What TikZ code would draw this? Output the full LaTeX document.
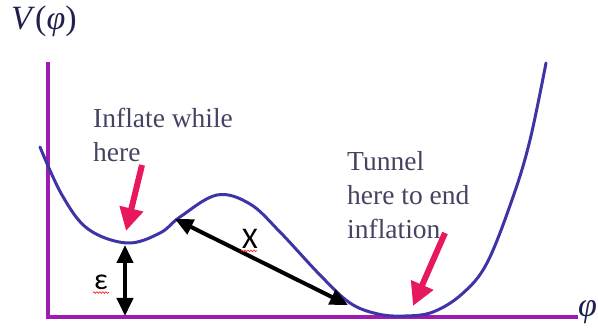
\documentclass[tikz,border=0pt]{standalone}
\usepackage{fontspec}
\setmainfont{Liberation Serif}
\newfontfamily\labfont{Carlito}
\usetikzlibrary{arrows.meta,decorations.pathmorphing}
\definecolor{axispurple}{RGB}{158,28,178}
\definecolor{curveblue}{RGB}{62,52,165}
\definecolor{hotpink}{RGB}{232,24,92}
\definecolor{slatetext}{RGB}{68,68,98}
\definecolor{titlenavy}{RGB}{32,32,80}

\begin{document}
\begin{tikzpicture}[x=1pt, y=-1pt,
    axisline/.style={line width=4pt, axispurple},
    pot/.style={line width=3pt, curveblue, line join=round, line cap=round},
    pinkarr/.style={-{Triangle[length=23pt,width=23pt]}, line width=6pt, hotpink},
    gaparr/.style={{Triangle[length=18pt,width=16pt]}-{Triangle[length=18pt,width=16pt]},
                   line width=4pt, black},
    note/.style={font=\fontsize{27.5}{34}\selectfont, text=slatetext, align=left,
                 inner sep=0pt, anchor=north west},
    sym/.style={font=\labfont\fontsize{30}{32}\selectfont, inner sep=0pt},
    bigmath/.style={font=\fontsize{34}{38}\selectfont, text=titlenavy, inner sep=0pt},
    squig/.style={red!85, line width=0.7pt, decorate,
                  decoration={snake, amplitude=0.8pt, segment length=3pt}}
  ]
  \useasboundingbox (0,0) rectangle (598,328);

  % axes
  \coordinate (orig) at (48,317);
  \coordinate (ytop) at (48,62);
  \coordinate (xend) at (578,317);
  \draw[axisline] (ytop) -- (orig) -- (xend);
  \node[bigmath, anchor=base west] (vlab) at (11,30) {\textit{V}(\textit{φ})};
  \node[bigmath, anchor=west] (philab) at (578,312) {\textit{φ}};

  % the potential
  \draw[pot] plot[smooth, tension=0.6] coordinates {
    (40,147) (62,195) (88,229) (127,243) (160,233) (180,217) (217,195)
    (250,204) (280,232) (320,275) (350,303) (378,314) (405,316) (433,312)
    (462,294) (487,263) (513,197) (530,140) (546,63)};

  % points on it
  \coordinate (falsemin) at (125,245);
  \coordinate (shoulder) at (175,219);
  \coordinate (slope) at (348,305);
  \coordinate (floorL) at (125,316);

  % labels
  \node[note] (inflate) at (93,108) {Inflate while\\here};
  \node[note] (tunnel) at (347,151) {Tunnel\\here to end\\inflation};

  \coordinate (pinkA) at (142,165);
  \coordinate (pinkAtip) at (126,231);
  \coordinate (pinkB) at (445,233);
  \coordinate (pinkBtip) at (413,306);
  \draw[pinkarr] (pinkA) -- (pinkAtip);
  \draw[pinkarr] (pinkB) -- (pinkBtip);

  \draw[gaparr] (falsemin) -- (floorL);
  \draw[gaparr] (shoulder) -- (slope);

  \node[sym] (eps) at (101,282) {ε};
  \node[sym] (dist) at (250,239) {X};
  \draw[squig] (eps.south west) ++(-1,3) -- ++(16,0);
  \draw[squig] (dist.south west) ++(-1,2) -- ++(16,0);
\end{tikzpicture}
\end{document}
